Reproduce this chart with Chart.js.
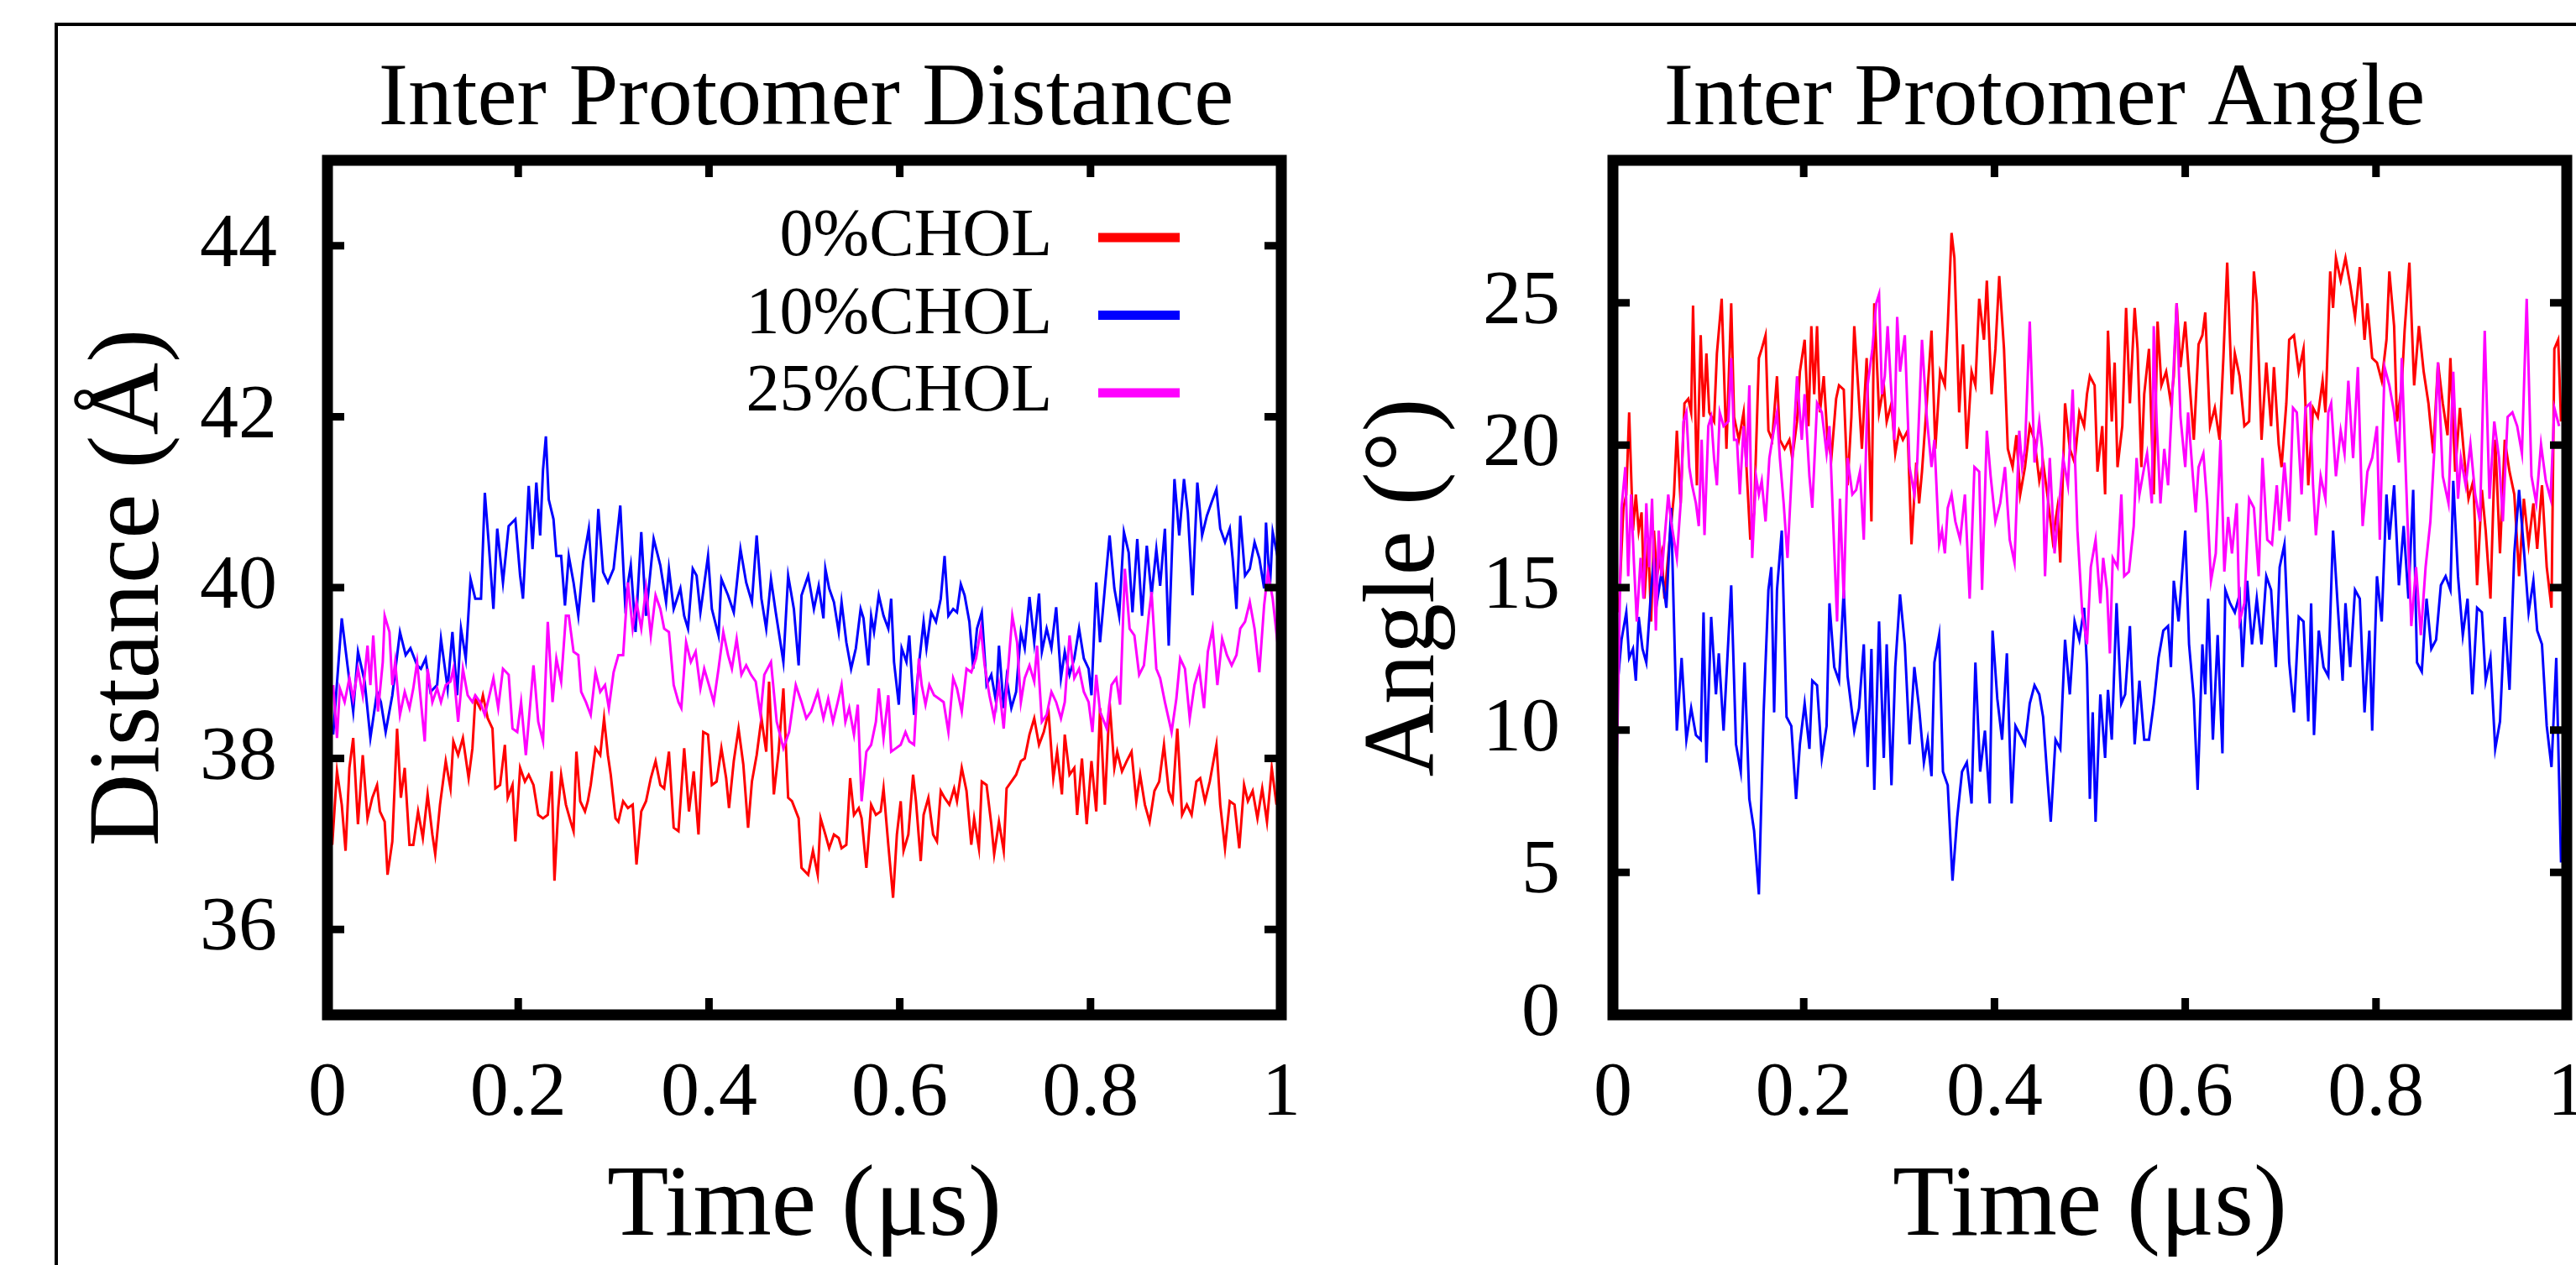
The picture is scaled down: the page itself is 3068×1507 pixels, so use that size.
<!DOCTYPE html>
<html>
<head>
<meta charset="utf-8">
<script src="https://cdn.jsdelivr.net/npm/chart.js@4.4.1/dist/chart.umd.min.js"></script>
<style>
  html, body { margin: 0; padding: 0; background: #fff; overflow: hidden; }
  body { width: 3068px; height: 1507px; position: relative; }
  #frame { position: absolute; left: 65px; top: 27px; width: 4000px; height: 4000px; border: 4px solid #000; }
  #distChart { position: absolute; left: 0; top: 0; }
  #angleChart { position: absolute; left: 1560px; top: 0; }
</style>
</head>
<body>
<div id="frame"></div>
<canvas id="distChart" width="1920" height="1507"></canvas>
<canvas id="angleChart" width="1750" height="1507"></canvas>
<script>
// tick labels
const timeTicks = [0, 0.2, 0.4, 0.6, 0.8, 1];
const distTicks = [36, 38, 40, 42, 44];
const angleTicks = [0, 5, 10, 15, 20, 25];
const seriesLabels = ['0%CHOL', '10%CHOL', '25%CHOL'];
const seriesColors = ['#ff0000', '#0000ff', '#ff00ff'];

// ---- Inter protomer distance (Å) vs time (µs) ----
const distTime0 = [
  0.005, 0.010, 0.015, 0.019, 0.023, 0.027, 0.032, 0.037, 0.042, 0.047, 0.052, 0.055, 0.060, 0.063, 0.068, 0.073,
  0.077, 0.081, 0.086, 0.090, 0.095, 0.100, 0.105, 0.110, 0.113, 0.118, 0.124, 0.129, 0.132, 0.137, 0.142, 0.148,
  0.152, 0.155, 0.160, 0.163, 0.168, 0.173, 0.176, 0.181, 0.186, 0.189, 0.194, 0.197, 0.202, 0.207, 0.211, 0.216,
  0.221, 0.226, 0.231, 0.235, 0.238, 0.242, 0.245, 0.250, 0.255, 0.258, 0.261, 0.265, 0.270, 0.273, 0.276, 0.281,
  0.286, 0.290, 0.294, 0.297, 0.302, 0.305, 0.310, 0.315, 0.320, 0.324, 0.329, 0.334, 0.339, 0.344, 0.349, 0.353,
  0.358, 0.363, 0.368, 0.374, 0.379, 0.384, 0.389, 0.394, 0.399, 0.403, 0.408, 0.413, 0.418, 0.421, 0.426, 0.431,
  0.436, 0.441, 0.445, 0.450, 0.455, 0.460, 0.463, 0.468, 0.473, 0.478, 0.483, 0.487, 0.494,
  0.497, 0.504, 0.509, 0.514, 0.517, 0.522, 0.526, 0.531, 0.536, 0.539, 0.544, 0.548, 0.552, 0.557, 0.560, 0.565,
  0.570, 0.575, 0.580, 0.583, 0.588, 0.593, 0.597, 0.601, 0.604, 0.609, 0.614, 0.617, 0.622, 0.625, 0.630, 0.635,
  0.639, 0.643, 0.647, 0.652, 0.657, 0.660, 0.665, 0.670, 0.675, 0.678, 0.683, 0.686, 0.691, 0.696, 0.699, 0.704,
  0.709, 0.712, 0.717, 0.722, 0.727, 0.731, 0.736, 0.741, 0.746, 0.751, 0.756, 0.761, 0.765, 0.770, 0.773, 0.778,
  0.783, 0.786, 0.791, 0.796, 0.801, 0.806, 0.810, 0.815, 0.820, 0.825, 0.828, 0.833, 0.838, 0.843, 0.848, 0.852,
  0.857, 0.862, 0.867, 0.872, 0.877, 0.882, 0.886, 0.891, 0.896, 0.901, 0.906, 0.911, 0.915, 0.920, 0.925, 0.932,
  0.936, 0.941, 0.946, 0.951, 0.956, 0.961, 0.965, 0.970, 0.975, 0.980, 0.985, 0.990, 0.995
];
const distChol0 = [
  36.99, 37.85, 37.46, 36.92, 37.89, 38.24, 37.23, 38.04, 37.30, 37.54, 37.69, 37.38, 37.26, 36.64, 37.03, 38.35,
  37.54, 37.89, 36.99, 36.99, 37.38, 37.07, 37.58, 37.11, 36.88, 37.46, 37.97, 37.65, 38.20, 38.04, 38.24, 37.77,
  38.12, 38.70, 38.59, 38.74, 38.47, 38.35, 37.65, 37.69, 38.16, 37.54, 37.69, 37.03, 37.89, 37.73, 37.81, 37.69,
  37.34, 37.30, 37.34, 37.85, 36.57, 37.42, 37.81, 37.46, 37.26, 37.15, 38.08, 37.50, 37.38, 37.50, 37.69, 38.12,
  38.04, 38.47, 38.04, 37.81, 37.30, 37.26, 37.50, 37.42, 37.46, 36.76, 37.38, 37.50, 37.77, 37.97, 37.69, 37.65,
  38.08, 37.19, 37.15, 38.12, 37.38, 37.85, 37.11, 38.31, 38.28, 37.69, 37.73, 38.12, 37.77, 37.42, 37.97, 38.35,
  37.93, 37.19, 37.73, 38.04, 38.47, 38.08, 38.90, 37.58, 38.08, 38.82, 37.54, 37.50, 37.30,
  36.72, 36.64, 36.92, 36.64, 37.30, 37.11, 36.95, 37.11, 37.07, 36.95, 36.99, 37.77, 37.34, 37.42, 37.30, 36.72,
  37.46, 37.34, 37.38, 37.65, 36.99, 36.37, 37.11, 37.50, 36.92, 37.11, 37.81, 37.50, 36.80, 37.34, 37.54, 37.11,
  37.03, 37.62, 37.54, 37.46, 37.65, 37.50, 37.89, 37.62, 36.99, 37.30, 36.95, 37.73, 37.69, 37.23, 36.88, 37.26,
  36.92, 37.65, 37.73, 37.81, 37.97, 38.00, 38.28, 38.47, 38.16, 38.31, 38.55, 37.77, 38.08, 37.58, 38.28, 37.81,
  37.89, 37.34, 38.00, 37.23, 37.97, 37.38, 38.59, 37.46, 38.66, 37.89, 38.08, 37.85, 37.97, 38.08, 37.50, 37.81,
  37.46, 37.26, 37.62, 37.73, 38.16, 37.62, 37.50, 38.35, 37.34, 37.46, 37.34, 37.73, 37.77, 37.50, 37.73, 38.16,
  37.46, 36.95, 37.50, 37.46, 36.95, 37.69, 37.50, 37.62, 37.30, 37.65, 37.26, 37.89, 37.46
];
const distTime10 = [
  0.006, 0.015, 0.021, 0.027, 0.032, 0.039, 0.045, 0.052, 0.056, 0.061, 0.068, 0.076, 0.082, 0.087, 0.094, 0.098,
  0.103, 0.108, 0.115, 0.119, 0.126, 0.131, 0.136, 0.140, 0.145, 0.150, 0.155, 0.161, 0.165, 0.169, 0.174, 0.178,
  0.184, 0.190, 0.197, 0.202, 0.205, 0.211, 0.215, 0.219, 0.223, 0.226, 0.229, 0.232, 0.237, 0.240, 0.245, 0.249,
  0.253, 0.258, 0.263, 0.268, 0.274, 0.279, 0.284, 0.289, 0.294, 0.300, 0.307, 0.312, 0.318, 0.323, 0.329, 0.334,
  0.342, 0.349, 0.355, 0.358, 0.363, 0.370, 0.374, 0.378, 0.383, 0.387, 0.391, 0.399, 0.403, 0.410, 0.413, 0.420,
  0.426, 0.433, 0.439, 0.445, 0.450, 0.455, 0.460, 0.465, 0.470, 0.478, 0.483, 0.489, 0.494,
  0.497, 0.504, 0.510, 0.515, 0.520, 0.522, 0.526, 0.531, 0.536, 0.539, 0.544, 0.549, 0.554, 0.559, 0.562, 0.567,
  0.570, 0.573, 0.578, 0.583, 0.588, 0.591, 0.594, 0.599, 0.602, 0.607, 0.610, 0.615, 0.620, 0.625, 0.628, 0.633,
  0.638, 0.643, 0.647, 0.651, 0.656, 0.660, 0.664, 0.668, 0.673, 0.677, 0.681, 0.686, 0.691, 0.696, 0.701, 0.704,
  0.709, 0.712, 0.717, 0.722, 0.727, 0.731, 0.736, 0.741, 0.746, 0.749, 0.754, 0.759, 0.764, 0.769, 0.773, 0.778,
  0.783, 0.788, 0.793, 0.798, 0.801, 0.806, 0.810, 0.815, 0.820, 0.825, 0.830, 0.835, 0.840, 0.844, 0.849, 0.854,
  0.859, 0.864, 0.869, 0.873, 0.878, 0.882, 0.888, 0.893, 0.898, 0.902, 0.907, 0.912, 0.917, 0.922, 0.927, 0.932,
  0.936, 0.941, 0.946, 0.949, 0.953, 0.957, 0.962, 0.967, 0.972, 0.977, 0.982, 0.984, 0.988, 0.991, 0.996
];
const distChol10 = [
  38.28, 39.64, 39.09, 38.55, 39.25, 38.90, 38.24, 38.78, 38.66, 38.31, 38.74, 39.48, 39.21, 39.29, 39.09, 39.05,
  39.17, 38.78, 38.86, 39.40, 38.82, 39.48, 38.74, 39.52, 39.17, 40.10, 39.87, 39.87, 41.11, 40.53, 39.75, 40.69,
  40.06, 40.72, 40.80, 40.14, 39.87, 41.19, 40.45, 41.23, 40.61, 41.38, 41.77, 41.03, 40.80, 40.37, 40.37, 39.79,
  40.37, 40.06, 39.67, 40.30, 40.69, 39.83, 40.92, 40.18, 40.06, 40.22, 40.96, 39.83, 40.26, 39.48, 40.65, 39.67,
  40.57, 40.26, 39.83, 40.22, 39.75, 39.99, 39.67, 39.52, 40.22, 40.14, 39.71, 40.37, 39.75, 39.44, 40.10, 39.91,
  39.71, 40.45, 40.06, 39.83, 40.61, 39.87, 39.52, 40.10, 39.71, 39.13, 40.14, 39.75, 39.09,
  39.91, 40.14, 39.75, 40.02, 39.64, 40.22, 39.99, 39.83, 39.48, 39.83, 39.36, 39.05, 39.29, 39.75, 39.64, 39.09,
  39.67, 39.48, 39.91, 39.67, 39.52, 39.87, 39.13, 38.63, 39.29, 39.13, 39.44, 38.51, 39.09, 39.60, 39.29, 39.71,
  39.60, 39.87, 40.37, 39.67, 39.75, 39.71, 40.04, 39.91, 39.60, 39.05, 39.52, 39.71, 38.86, 38.98, 38.66, 39.32,
  38.59, 38.94, 38.59, 38.78, 39.48, 39.29, 39.89, 39.36, 39.93, 39.25, 39.52, 39.29, 39.77, 38.94, 39.25, 38.98,
  39.17, 39.52, 39.17, 39.05, 38.74, 40.06, 39.36, 39.99, 40.61, 39.99, 39.67, 40.65, 40.41, 39.71, 40.57, 39.67,
  40.49, 39.91, 40.45, 40.02, 40.69, 39.32, 41.27, 40.61, 41.27, 40.88, 39.91, 41.23, 40.61, 40.84, 41.00, 41.15,
  40.69, 40.53, 40.69, 40.34, 39.75, 40.84, 40.14, 40.22, 40.53, 40.34, 39.99, 40.76, 39.99, 40.65, 40.37
];
const distTime25 = [
  0.006, 0.010, 0.013, 0.018, 0.023, 0.027, 0.032, 0.037, 0.042, 0.045, 0.048, 0.053, 0.058, 0.060, 0.065, 0.068,
  0.071, 0.076, 0.081, 0.086, 0.090, 0.094, 0.097, 0.102, 0.105, 0.110, 0.115, 0.119, 0.124, 0.129, 0.132, 0.137,
  0.142, 0.147, 0.152, 0.155, 0.160, 0.165, 0.169, 0.174, 0.179, 0.184, 0.190, 0.194, 0.199, 0.203, 0.208, 0.211,
  0.216, 0.221, 0.226, 0.231, 0.236, 0.240, 0.245, 0.250, 0.253, 0.258, 0.263, 0.266, 0.271, 0.276, 0.281, 0.286,
  0.291, 0.295, 0.300, 0.305, 0.310, 0.315, 0.320, 0.324, 0.329, 0.334, 0.339, 0.344, 0.349, 0.353, 0.358, 0.363,
  0.368, 0.371, 0.376, 0.381, 0.386, 0.391, 0.395, 0.400, 0.405, 0.410, 0.415, 0.420, 0.424, 0.429, 0.434, 0.439,
  0.444, 0.449, 0.454, 0.458, 0.465, 0.471, 0.478, 0.484, 0.491,
  0.497, 0.502, 0.507, 0.514, 0.520, 0.525, 0.530, 0.535, 0.539, 0.543, 0.547, 0.552, 0.556, 0.560, 0.565, 0.570,
  0.575, 0.578, 0.583, 0.588, 0.591, 0.596, 0.601, 0.606, 0.610, 0.615, 0.620, 0.623, 0.627, 0.631, 0.636, 0.641,
  0.646, 0.651, 0.656, 0.660, 0.665, 0.670, 0.675, 0.680, 0.685, 0.689, 0.694, 0.699, 0.704, 0.709, 0.712, 0.718,
  0.723, 0.727, 0.731, 0.736, 0.741, 0.744, 0.749, 0.754, 0.759, 0.764, 0.769, 0.773, 0.778, 0.783, 0.788, 0.793,
  0.798, 0.802, 0.806, 0.810, 0.817, 0.822, 0.827, 0.831, 0.836, 0.841, 0.846, 0.851, 0.856, 0.861, 0.864, 0.869,
  0.873, 0.878, 0.885, 0.890, 0.894, 0.899, 0.904, 0.909, 0.914, 0.919, 0.923, 0.928, 0.933, 0.938, 0.943, 0.948,
  0.953, 0.957, 0.962, 0.967, 0.972, 0.977, 0.982, 0.986, 0.991, 0.996
];
const distChol25 = [
  38.86, 38.24, 38.82, 38.66, 38.94, 38.70, 39.05, 38.74, 39.32, 38.86, 39.44, 38.55, 39.13, 39.67, 39.48, 38.86,
  39.13, 38.51, 38.78, 38.59, 38.82, 39.13, 38.78, 38.20, 39.05, 38.66, 38.82, 38.66, 38.86, 38.90, 39.05, 38.43,
  39.05, 38.74, 38.66, 38.74, 38.66, 38.51, 38.70, 38.94, 38.59, 39.05, 38.98, 38.35, 38.31, 38.66, 38.04, 38.43,
  39.09, 38.43, 38.20, 39.60, 38.66, 39.17, 38.90, 39.67, 39.67, 39.25, 39.21, 38.78, 38.66, 38.51, 39.01, 38.78,
  38.86, 38.59, 39.01, 39.21, 39.21, 40.06, 39.52, 39.83, 39.52, 39.99, 39.44, 39.91, 39.75, 39.52, 39.48, 38.86,
  38.66, 38.59, 39.36, 39.13, 39.25, 38.82, 39.05, 38.86, 38.66, 39.05, 39.48, 39.21, 39.05, 39.40, 38.98, 39.09,
  38.98, 38.90, 38.51, 38.98, 39.13, 38.43, 38.12, 38.31, 38.86,
  38.66, 38.47, 38.55, 38.78, 38.47, 38.70, 38.43, 38.66, 38.86, 38.43, 38.59, 38.28, 38.63, 37.50, 38.08, 38.16,
  38.43, 38.82, 38.24, 38.74, 38.08, 38.12, 38.16, 38.31, 38.20, 38.16, 39.17, 38.86, 38.63, 38.86, 38.74, 38.70,
  38.66, 38.31, 38.94, 38.82, 38.55, 39.05, 39.01, 39.17, 39.52, 39.09, 38.74, 38.47, 38.86, 38.35, 38.82, 39.67,
  39.36, 38.66, 38.94, 39.09, 38.90, 39.32, 38.43, 38.51, 38.78, 38.66, 38.47, 38.66, 39.44, 38.94, 39.05, 38.78,
  38.66, 38.31, 38.98, 38.55, 38.35, 38.86, 38.94, 38.63, 40.22, 39.52, 39.44, 38.98, 39.09, 39.67, 39.95, 39.05,
  38.94, 38.66, 38.31, 38.70, 39.17, 39.05, 38.47, 38.86, 39.05, 38.59, 39.25, 39.52, 38.86, 39.40, 39.21, 39.09,
  39.21, 39.52, 39.60, 39.83, 39.52, 39.01, 39.79, 40.18, 39.87, 39.36
];

// ---- Inter protomer angle (°) vs time (µs) ----
const angleTime0 = [
  0.006, 0.011, 0.014, 0.017, 0.021, 0.024, 0.027, 0.030, 0.033, 0.037, 0.040, 0.043, 0.046, 0.051, 0.054, 0.059,
  0.064, 0.067, 0.071, 0.075, 0.079, 0.082, 0.084, 0.088, 0.092, 0.095, 0.098, 0.101, 0.106, 0.109, 0.114, 0.119,
  0.124, 0.127, 0.132, 0.137, 0.140, 0.144, 0.148, 0.153, 0.156, 0.160, 0.163, 0.167, 0.172, 0.175, 0.180, 0.185,
  0.188, 0.193, 0.196, 0.201, 0.205, 0.208, 0.211, 0.214, 0.217, 0.221, 0.225, 0.229, 0.234, 0.237, 0.242, 0.246,
  0.250, 0.253, 0.257, 0.261, 0.266, 0.271, 0.274, 0.279, 0.284, 0.287, 0.292, 0.296, 0.300, 0.304, 0.309, 0.313,
  0.318, 0.321, 0.324, 0.329, 0.334, 0.338, 0.343, 0.348, 0.351, 0.355, 0.358, 0.363, 0.367, 0.371, 0.376, 0.380,
  0.384, 0.389, 0.392, 0.397, 0.401, 0.405, 0.410, 0.414, 0.419, 0.423, 0.427, 0.432, 0.437, 0.442, 0.447, 0.451,
  0.456, 0.461, 0.466, 0.469, 0.474, 0.479, 0.484, 0.489, 0.494,
  0.497, 0.500, 0.505, 0.508, 0.513, 0.516, 0.519, 0.523, 0.526, 0.529, 0.534, 0.538, 0.542, 0.547, 0.550, 0.554,
  0.557, 0.562, 0.567, 0.571, 0.575, 0.580, 0.585, 0.588, 0.591, 0.595, 0.600, 0.604, 0.609, 0.614, 0.618, 0.621,
  0.626, 0.631, 0.636, 0.640, 0.644, 0.649, 0.652, 0.657, 0.662, 0.667, 0.672, 0.675, 0.680, 0.685, 0.690, 0.693,
  0.698, 0.701, 0.706, 0.709, 0.714, 0.719, 0.724, 0.729, 0.734, 0.739, 0.744, 0.747, 0.752, 0.755, 0.758, 0.763,
  0.768, 0.773, 0.778, 0.783, 0.788, 0.791, 0.796, 0.801, 0.806, 0.811, 0.814, 0.819, 0.822, 0.827, 0.830, 0.835,
  0.840, 0.845, 0.850, 0.855, 0.860, 0.865, 0.870, 0.875, 0.878, 0.883, 0.888, 0.893, 0.897, 0.902, 0.906, 0.911,
  0.915, 0.920, 0.925, 0.930, 0.935, 0.940, 0.945, 0.950, 0.955, 0.960, 0.965, 0.969, 0.974, 0.979, 0.984, 0.987,
  0.991, 0.994
];
const angleChol0 = [
  14.13, 17.80, 18.27, 21.15, 17.00, 18.27, 17.00, 17.64, 14.61, 16.68, 13.81, 17.00, 15.40, 16.20, 14.61, 16.52,
  18.27, 20.51, 17.96, 21.47, 21.63, 21.15, 24.90, 18.59, 23.86, 20.99, 23.22, 21.15, 20.83, 23.22, 25.14, 19.87,
  24.98, 20.99, 20.19, 21.15, 19.23, 16.68, 17.64, 23.06, 23.38, 23.86, 20.51, 20.19, 22.42, 20.19, 19.87, 20.19,
  19.55, 20.83, 22.58, 23.70, 20.67, 24.18, 21.79, 24.18, 21.15, 22.42, 20.19, 19.55, 21.63, 22.10, 21.95, 18.59,
  20.99, 24.18, 22.10, 19.87, 23.06, 17.32, 24.98, 21.15, 22.10, 20.83, 21.47, 19.71, 20.51, 20.19, 20.51, 16.52,
  19.39, 17.96, 19.07, 21.47, 24.02, 19.87, 22.58, 22.10, 24.18, 27.45, 26.57, 21.15, 23.54, 19.87, 22.58, 22.10,
  25.14, 23.70, 25.78, 21.79, 23.38, 25.94, 23.38, 19.87, 19.23, 20.35, 18.27, 19.23, 20.67, 20.19, 18.75, 19.39,
  18.12, 16.68, 17.80, 15.88, 21.47, 19.87, 19.39, 21.15, 20.67,
  21.79, 22.42, 22.10, 19.07, 20.67, 18.27, 24.02, 20.83, 22.90, 19.23, 20.67, 24.82, 21.47, 24.82, 23.38, 19.23,
  21.79, 23.38, 18.27, 24.34, 22.10, 22.58, 21.47, 22.42, 24.98, 22.74, 24.34, 22.42, 20.19, 23.54, 23.86, 24.66,
  20.67, 21.31, 20.19, 23.06, 26.41, 21.79, 23.22, 22.42, 20.67, 20.83, 26.10, 24.98, 20.19, 22.90, 20.67, 22.74,
  20.03, 19.23, 21.47, 23.70, 23.86, 22.58, 23.38, 18.59, 21.31, 20.99, 22.26, 21.15, 26.10, 24.82, 26.57, 25.78,
  26.57, 25.62, 24.50, 26.25, 23.70, 24.98, 23.06, 22.90, 22.26, 23.70, 26.10, 24.18, 20.83, 22.10, 24.02, 26.41,
  22.10, 24.18, 22.58, 21.47, 19.71, 22.90, 21.47, 20.35, 23.06, 19.07, 21.31, 19.39, 18.12, 18.75, 15.08, 18.43,
  17.00, 14.61, 20.19, 16.20, 20.19, 19.07, 18.27, 15.40, 18.12, 16.52, 17.96, 16.36, 18.59, 15.72, 14.29, 23.38,
  23.70, 20.83
];
const angleTime10 = [
  0.004, 0.009, 0.014, 0.017, 0.021, 0.024, 0.027, 0.031, 0.035, 0.040, 0.043, 0.046, 0.051, 0.056, 0.061, 0.064,
  0.067, 0.072, 0.077, 0.082, 0.087, 0.092, 0.095, 0.098, 0.103, 0.108, 0.111, 0.116, 0.121, 0.124, 0.129, 0.134,
  0.138, 0.143, 0.148, 0.153, 0.158, 0.163, 0.166, 0.169, 0.172, 0.177, 0.182, 0.187, 0.192, 0.196, 0.201, 0.206,
  0.209, 0.214, 0.219, 0.224, 0.227, 0.232, 0.237, 0.242, 0.246, 0.253, 0.258, 0.263, 0.267, 0.271, 0.274, 0.279,
  0.284, 0.287, 0.292, 0.296, 0.301, 0.306, 0.311, 0.316, 0.321, 0.326, 0.330, 0.334, 0.337, 0.342, 0.346, 0.351,
  0.356, 0.361, 0.366, 0.371, 0.376, 0.380, 0.385, 0.390, 0.395, 0.398, 0.403, 0.408, 0.413, 0.418, 0.422, 0.427,
  0.432, 0.437, 0.442, 0.447, 0.451, 0.455, 0.459, 0.464, 0.469, 0.474, 0.479, 0.484, 0.489, 0.494,
  0.497, 0.500, 0.503, 0.506, 0.511, 0.516, 0.519, 0.523, 0.528, 0.533, 0.537, 0.542, 0.547, 0.552, 0.557, 0.562,
  0.567, 0.572, 0.577, 0.582, 0.585, 0.588, 0.593, 0.600, 0.604, 0.609, 0.613, 0.618, 0.621, 0.624, 0.629, 0.634,
  0.639, 0.642, 0.647, 0.652, 0.657, 0.660, 0.665, 0.670, 0.675, 0.680, 0.685, 0.690, 0.695, 0.699, 0.704, 0.709,
  0.714, 0.719, 0.724, 0.729, 0.732, 0.735, 0.740, 0.745, 0.750, 0.755, 0.760, 0.765, 0.768, 0.773, 0.778, 0.783,
  0.788, 0.793, 0.796, 0.801, 0.806, 0.811, 0.814, 0.819, 0.824, 0.829, 0.834, 0.839, 0.843, 0.848, 0.853, 0.858,
  0.863, 0.868, 0.873, 0.878, 0.881, 0.886, 0.891, 0.896, 0.901, 0.906, 0.911, 0.915, 0.920, 0.925, 0.930, 0.935,
  0.940, 0.945, 0.950, 0.955, 0.960, 0.965, 0.969, 0.974, 0.979, 0.984, 0.989, 0.994
];
const angleChol10 = [
  11.25, 13.17, 14.13, 12.53, 12.85, 11.73, 13.97, 12.85, 12.37, 14.92, 16.04, 14.45, 15.56, 14.29, 17.80, 13.81,
  9.98, 12.53, 9.66, 10.77, 9.82, 9.66, 14.13, 8.86, 13.97, 11.25, 12.69, 9.98, 13.17, 15.08, 9.50, 8.54,
  12.37, 7.58, 6.46, 4.23, 10.62, 14.92, 15.72, 10.62, 14.92, 17.00, 10.46, 10.14, 7.58, 9.50, 10.93, 9.34,
  11.73, 11.57, 9.02, 10.14, 14.45, 12.21, 11.73, 14.92, 11.89, 9.98, 10.77, 13.01, 8.70, 12.85, 7.90, 13.81,
  9.02, 13.01, 8.06, 12.21, 14.76, 13.01, 9.50, 12.21, 10.77, 8.86, 9.66, 8.38, 12.37, 13.33, 8.54, 8.06,
  4.71, 6.94, 8.54, 8.86, 7.42, 12.37, 8.54, 9.98, 7.42, 13.49, 11.09, 9.66, 12.69, 7.42, 10.14, 9.82,
  9.50, 10.93, 11.57, 11.25, 10.46, 8.54, 6.78, 9.66, 9.34, 13.17, 11.25, 13.81, 13.17, 14.29,
  12.21, 7.58, 10.62, 6.78, 11.25, 9.02, 11.41, 9.66, 14.45, 10.93, 11.25, 13.65, 9.50, 11.73, 9.66, 9.66,
  10.93, 12.53, 13.49, 13.65, 12.21, 15.24, 13.81, 17.00, 13.01, 11.09, 7.90, 13.01, 11.25, 14.61, 9.66, 13.33,
  9.18, 14.92, 14.45, 14.13, 14.76, 12.21, 15.24, 13.01, 14.61, 13.01, 15.40, 14.92, 12.21, 15.72, 16.52, 12.37,
  10.62, 13.97, 13.81, 10.30, 14.45, 9.82, 13.49, 12.21, 11.89, 17.00, 14.29, 11.73, 14.45, 12.21, 14.92, 14.61,
  10.62, 13.49, 9.98, 15.40, 13.81, 18.27, 16.68, 18.59, 15.08, 17.16, 14.61, 18.43, 12.37, 12.05, 14.61, 12.85,
  13.17, 15.08, 15.40, 14.92, 18.75, 15.40, 13.33, 14.61, 11.25, 14.29, 14.13, 11.73, 12.53, 9.34, 10.30, 13.97,
  11.41, 16.20, 18.43, 16.36, 14.13, 15.24, 13.49, 13.01, 10.14, 8.70, 12.53, 5.35
];
const angleTime25 = [
  0.004, 0.009, 0.013, 0.016, 0.019, 0.022, 0.025, 0.029, 0.032, 0.035, 0.038, 0.041, 0.045, 0.048, 0.051, 0.054,
  0.058, 0.061, 0.064, 0.067, 0.071, 0.074, 0.077, 0.080, 0.083, 0.087, 0.090, 0.093, 0.096, 0.100, 0.103, 0.106,
  0.109, 0.112, 0.116, 0.121, 0.124, 0.127, 0.130, 0.133, 0.137, 0.140, 0.143, 0.146, 0.150, 0.153, 0.156, 0.160,
  0.164, 0.167, 0.172, 0.175, 0.179, 0.183, 0.188, 0.193, 0.198, 0.201, 0.206, 0.209, 0.214, 0.219, 0.224, 0.227,
  0.232, 0.235, 0.238, 0.242, 0.246, 0.251, 0.255, 0.259, 0.263, 0.267, 0.272, 0.276, 0.279, 0.282, 0.285, 0.288,
  0.292, 0.295, 0.298, 0.301, 0.306, 0.311, 0.316, 0.319, 0.324, 0.329, 0.334, 0.337, 0.342, 0.345, 0.348, 0.351,
  0.355, 0.359, 0.364, 0.369, 0.374, 0.379, 0.384, 0.387, 0.392, 0.396, 0.401, 0.406, 0.411, 0.416, 0.421, 0.426,
  0.429, 0.432, 0.437, 0.442, 0.447, 0.450, 0.453, 0.458, 0.463, 0.468, 0.472, 0.477, 0.482, 0.487, 0.492,
  0.497, 0.501, 0.506, 0.511, 0.514, 0.518, 0.521, 0.524, 0.529, 0.533, 0.536, 0.541, 0.546, 0.549, 0.552, 0.557,
  0.560, 0.565, 0.567, 0.570, 0.574, 0.578, 0.582, 0.587, 0.591, 0.595, 0.600, 0.603, 0.608, 0.611, 0.614, 0.619,
  0.623, 0.627, 0.632, 0.637, 0.641, 0.645, 0.649, 0.654, 0.657, 0.662, 0.667, 0.672, 0.677, 0.681, 0.686, 0.691,
  0.696, 0.699, 0.704, 0.709, 0.713, 0.717, 0.722, 0.726, 0.731, 0.734, 0.737, 0.742, 0.747, 0.750, 0.753, 0.758,
  0.763, 0.767, 0.771, 0.776, 0.781, 0.786, 0.791, 0.796, 0.801, 0.804, 0.809, 0.814, 0.819, 0.824, 0.827, 0.830,
  0.837, 0.842, 0.847, 0.852, 0.857, 0.861, 0.865, 0.870, 0.876, 0.881, 0.886, 0.889, 0.894, 0.899, 0.904, 0.909,
  0.914, 0.919, 0.924, 0.929, 0.933, 0.938, 0.943, 0.948, 0.953, 0.958, 0.963, 0.968, 0.973, 0.978, 0.983, 0.987,
  0.992
];
const angleChol25 = [
  8.70, 17.80, 19.23, 15.40, 18.27, 15.88, 13.81, 16.04, 14.61, 17.96, 15.72, 18.12, 13.49, 17.00, 15.40, 16.68,
  18.27, 17.32, 16.68, 16.04, 17.96, 20.83, 21.15, 19.23, 18.59, 17.96, 17.16, 20.19, 16.84, 20.67, 20.99, 19.55,
  18.59, 21.15, 20.67, 20.83, 23.06, 20.19, 20.19, 18.27, 20.67, 19.23, 22.10, 16.04, 18.91, 18.27, 18.75, 17.32,
  19.55, 20.19, 21.15, 19.55, 17.96, 16.04, 19.39, 22.42, 20.19, 21.79, 18.91, 17.80, 21.47, 21.15, 19.71, 20.67,
  16.36, 13.81, 18.12, 14.61, 19.55, 18.27, 18.43, 19.07, 16.68, 22.10, 23.38, 24.98, 25.30, 21.79, 22.42, 24.18,
  21.79, 20.19, 24.50, 22.58, 23.86, 19.23, 18.27, 19.39, 23.70, 20.99, 19.23, 20.19, 16.52, 17.00, 16.20, 17.80,
  18.27, 17.32, 16.68, 18.27, 14.61, 19.23, 19.07, 14.92, 20.51, 18.91, 17.32, 17.96, 19.23, 16.68, 15.88, 20.51,
  19.23, 19.87, 24.34, 19.39, 20.83, 19.87, 15.40, 19.55, 16.20, 17.96, 19.55, 18.59, 21.95, 17.00, 14.13,
  13.01, 15.72, 16.68, 14.45, 16.04, 14.92, 12.69, 16.04, 15.72, 18.27, 15.40, 15.56, 17.16, 19.55, 18.27, 19.23,
  19.71, 17.96, 24.18, 20.83, 17.96, 19.87, 18.59, 22.10, 24.98, 20.99, 19.23, 21.15, 18.91, 17.64, 19.23, 19.71,
  17.96, 15.24, 16.20, 20.19, 15.56, 17.48, 16.20, 17.96, 13.81, 14.45, 18.12, 17.80, 15.40, 19.55, 16.68, 16.52,
  18.59, 17.00, 19.39, 17.32, 21.31, 21.15, 18.27, 21.31, 21.47, 18.59, 16.84, 18.91, 18.12, 21.15, 21.47, 18.91,
  20.51, 19.71, 22.26, 19.55, 22.74, 17.16, 19.07, 19.55, 20.67, 16.68, 22.74, 22.10, 21.15, 19.39, 23.06, 20.19,
  13.65, 15.72, 13.33, 15.72, 17.32, 19.71, 22.90, 18.91, 17.96, 22.58, 18.12, 19.55, 18.59, 20.03, 18.27, 17.32,
  24.02, 18.12, 20.83, 19.55, 17.32, 20.99, 21.15, 20.67, 19.71, 25.14, 18.91, 17.96, 20.03, 18.75, 18.12, 21.31,
  20.67
];

Chart.defaults.font.family = '"Liberation Serif", "Times New Roman", serif';
Chart.defaults.color = '#000';

const toPoints = (times, vals) => vals.map((v, i) => ({ x: times[i], y: v }));

// gnuplot-like thick box with inward ticks on all four sides
const boxTicks = {
  id: 'boxTicks',
  afterDatasetsDraw(chart, args, opts) {
    const { ctx, chartArea: a, scales: { x, y } } = chart;
    ctx.save();
    ctx.strokeStyle = '#000';
    ctx.lineWidth = opts.tickWidth;
    ctx.beginPath();
    x.ticks.forEach(t => {
      const px = x.getPixelForValue(t.value);
      ctx.moveTo(px, a.bottom); ctx.lineTo(px, a.bottom - opts.tickLen);
      ctx.moveTo(px, a.top); ctx.lineTo(px, a.top + opts.tickLen);
    });
    y.ticks.forEach(t => {
      const py = y.getPixelForValue(t.value);
      ctx.moveTo(a.left, py); ctx.lineTo(a.left + opts.tickLen, py);
      ctx.moveTo(a.right, py); ctx.lineTo(a.right - opts.tickLen, py);
    });
    ctx.stroke();
    ctx.lineWidth = opts.borderWidth;
    ctx.lineJoin = 'miter';
    ctx.strokeRect(a.left, a.top, a.right - a.left, a.bottom - a.top);
    ctx.restore();
  }
};

// key inside the plot: text right-aligned, sample line to its right
const insideKey = {
  id: 'insideKey',
  afterDraw(chart, args, opts) {
    if (!opts.show) return;
    const { ctx, chartArea: a } = chart;
    ctx.save();
    ctx.font = opts.size + 'px "Liberation Serif"';
    ctx.textAlign = 'right';
    ctx.textBaseline = 'middle';
    ctx.fillStyle = '#000';
    chart.data.datasets.forEach((ds, i) => {
      const yy = a.top + opts.top + i * opts.rowGap;
      const xr = a.left + opts.textRight;
      ctx.fillText(ds.label, xr, yy);
      ctx.strokeStyle = ds.borderColor;
      ctx.lineWidth = opts.lineWidth;
      ctx.beginPath();
      ctx.moveTo(xr + opts.gap, yy);
      ctx.lineTo(xr + opts.gap + opts.lineLen, yy);
      ctx.stroke();
    });
    ctx.restore();
  }
};

// center the title over the plot box (plus a small offset)
const titleShift = {
  id: 'titleShift',
  afterLayout(chart, args, opts) {
    const tb = chart.titleBlock;
    if (!tb) return;
    const a = chart.chartArea;
    const mid = (a.left + a.right) / 2 + (opts.dx || 0);
    const half = (tb.right - tb.left) / 2;
    tb.left = mid - half;
    tb.right = mid + half;
  }
};

function makeDatasets(times, series) {
  return series.map((vals, i) => ({
    label: seriesLabels[i],
    data: toPoints(times[i], vals),
    borderColor: seriesColors[i],
    borderWidth: 3,
    pointRadius: 0,
    tension: 0,
    order: 3 - i
  }));
}

function makeChart(canvasId, cfg) {
  return new Chart(document.getElementById(canvasId), {
    type: 'line',
    data: { datasets: makeDatasets(cfg.times, cfg.series) },
    options: {
      responsive: false,
      animation: false,
      layout: { padding: { left: 0, top: 0, right: cfg.padRight, bottom: 0 } },
      plugins: {
        legend: { display: false },
        tooltip: { enabled: false },
        title: {
          display: true,
          text: cfg.title,
          color: '#000',
          font: { size: 106, weight: 'normal', lineHeight: 1 },
          padding: { top: 67, bottom: 18 }
        },
        titleShift: { dx: cfg.titleDx },
        boxTicks: { tickLen: 20, tickWidth: 9, borderWidth: 13 },
        insideKey: { show: cfg.key, size: 80, top: 92, rowGap: 92.5, textRight: 863, gap: 55, lineLen: 97, lineWidth: 11 }
      },
      scales: {
        x: {
          type: 'linear',
          min: 0,
          max: 1,
          afterBuildTicks: s => { s.ticks = timeTicks.map(v => ({ value: v })); },
          afterFit: s => { s.height = 298; },
          grid: { display: false, drawTicks: false },
          border: { display: false },
          ticks: {
            color: '#000',
            font: { size: 92, lineHeight: 1 },
            padding: 49,
            maxRotation: 0,
            minRotation: 0,
            autoSkip: false,
            callback: v => String(v)
          },
          title: {
            display: true,
            text: 'Time (μs)',
            color: '#000',
            font: { size: 120, lineHeight: 1 },
            padding: { top: 0, bottom: 8 }
          }
        },
        y: {
          type: 'linear',
          min: cfg.yMin,
          max: cfg.yMax,
          afterBuildTicks: s => { s.ticks = cfg.yTicks.map(v => ({ value: v })); },
          afterFit: s => { s.width = cfg.yWidth; },
          grid: { display: false, drawTicks: false },
          border: { display: false },
          ticks: {
            color: '#000',
            font: { size: 92, lineHeight: 1 },
            padding: cfg.yTickPad,
            autoSkip: false,
            callback: v => String(v)
          },
          title: {
            display: true,
            text: cfg.yTitle,
            color: '#000',
            font: { size: 120, lineHeight: 1 },
            padding: { top: cfg.yTitlePad, bottom: 0 }
          }
        }
      }
    },
    plugins: [titleShift, boxTicks, insideKey]
  });
}

makeChart('distChart', {
  times: [distTime0, distTime10, distTime25],
  series: [distChol0, distChol10, distChol25],
  title: 'Inter Protomer Distance',
  titleDx: 2,
  yTitle: 'Distance (Å)',
  yMin: 35, yMax: 45, yTicks: distTicks,
  yWidth: 390, yTickPad: 60, yTitlePad: 96,
  padRight: 394,
  key: true
});

makeChart('angleChart', {
  times: [angleTime0, angleTime10, angleTime25],
  series: [angleChol0, angleChol10, angleChol25],
  title: 'Inter Protomer Angle',
  titleDx: -54,
  yTitle: 'Angle (°)',
  yMin: 0, yMax: 30, yTicks: angleTicks,
  yWidth: 361, yTickPad: 63, yTitlePad: 55,
  padRight: 253,
  key: false
});
</script>
</body>
</html>
